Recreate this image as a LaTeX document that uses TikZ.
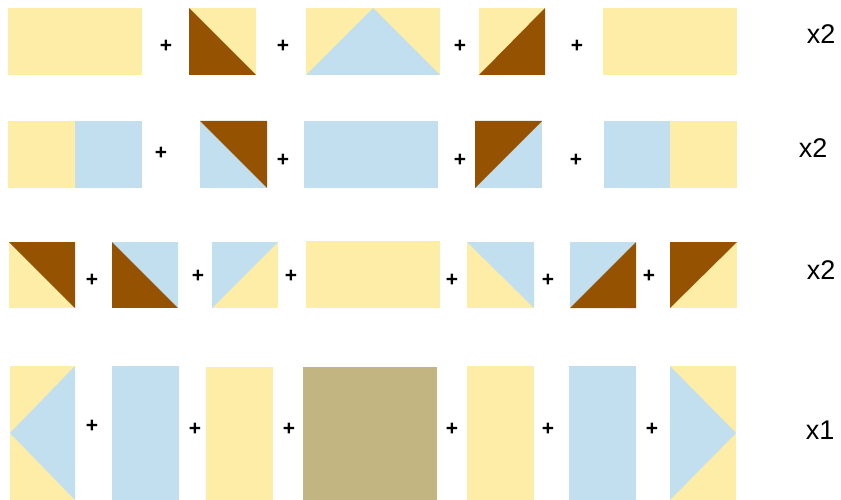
\documentclass[tikz,border=0pt]{standalone}
\usepackage{fontspec}
\setmainfont{Liberation Sans}
\definecolor{ylw}{HTML}{FDEDA6}
\definecolor{blu}{HTML}{C1DFEE}
\definecolor{brn}{HTML}{955200}
\definecolor{kha}{HTML}{C2B582}
\begin{document}
\begin{tikzpicture}[x=1pt,y=-1pt,
  plus/.style={inner sep=0pt,font=\bfseries\fontsize{21}{21}\selectfont},
  mult/.style={inner sep=0pt,font=\fontsize{27}{27}\selectfont}]
\useasboundingbox (0,0) rectangle (841,500);
% Row 1
\fill[ylw] (8,8) rectangle (142,75);
\fill[ylw] (189,8) rectangle (256,75); \fill[brn] (189,8) -- (256,75) -- (189,75) -- cycle;
\fill[ylw] (306,8) rectangle (440,75); \fill[blu] (306,75) -- (373,8) -- (440,75) -- cycle;
\fill[ylw] (479,8) rectangle (545,75); \fill[brn] (479,75) -- (545,8) -- (545,75) -- cycle;
\fill[ylw] (603,8) rectangle (737,75);
\node[plus] (p11) at (166,46) {+};
\node[plus] (p12) at (283,46) {+};
\node[plus] (p13) at (460,46) {+};
\node[plus] (p14) at (577,46) {+};
\node[mult] (m1) at (821,34) {x2};
% Row 2
\fill[ylw] (8,121) rectangle (75,188); \fill[blu] (75,121) rectangle (142,188);
\fill[blu] (200,121) rectangle (267,188); \fill[brn] (200,121) -- (267,121) -- (267,188) -- cycle;
\fill[blu] (304,121) rectangle (438,188);
\fill[blu] (475,121) rectangle (542,188); \fill[brn] (475,121) -- (542,121) -- (475,188) -- cycle;
\fill[blu] (604,121) rectangle (670,188); \fill[ylw] (670,121) rectangle (737,188);
\node[plus] (p21) at (161,153) {+};
\node[plus] (p22) at (283,160) {+};
\node[plus] (p23) at (460,160) {+};
\node[plus] (p24) at (576,160) {+};
\node[mult] (m2) at (813,148) {x2};
% Row 3
\fill[ylw] (9,242) rectangle (75,308); \fill[brn] (9,242) -- (75,242) -- (75,308) -- cycle;
\fill[brn] (112,242) rectangle (178,308); \fill[blu] (112,242) -- (178,242) -- (178,308) -- cycle;
\fill[ylw] (212,242) rectangle (278,308); \fill[blu] (212,242) -- (278,242) -- (212,308) -- cycle;
\fill[ylw] (306,241) rectangle (440,308);
\fill[ylw] (467,242) rectangle (534,308); \fill[blu] (467,242) -- (534,242) -- (534,308) -- cycle;
\fill[blu] (570,242) rectangle (636,308); \fill[brn] (570,308) -- (636,242) -- (636,308) -- cycle;
\fill[ylw] (670,242) rectangle (737,308); \fill[brn] (670,242) -- (737,242) -- (670,308) -- cycle;
\node[plus] (p31) at (92,280) {+};
\node[plus] (p32) at (198,276) {+};
\node[plus] (p33) at (291,276) {+};
\node[plus] (p34) at (452,280) {+};
\node[plus] (p35) at (548,280) {+};
\node[plus] (p36) at (649,276) {+};
\node[mult] (m3) at (821,270) {x2};
% Row 4
\fill[ylw] (10,366) rectangle (75,500); \fill[blu] (10,433) -- (75,366) -- (75,500) -- cycle;
\fill[blu] (112,366) rectangle (179,500);
\fill[ylw] (206,367) rectangle (273,500);
\fill[kha] (303,367) rectangle (437,500);
\fill[ylw] (467,366) rectangle (534,500);
\fill[blu] (569,366) rectangle (636,500);
\fill[ylw] (670,366) rectangle (736,500); \fill[blu] (670,366) -- (736,433) -- (670,500) -- cycle;
\node[plus] (p41) at (92,426) {+};
\node[plus] (p42) at (195,429) {+};
\node[plus] (p43) at (289,429) {+};
\node[plus] (p44) at (452,429) {+};
\node[plus] (p45) at (548,429) {+};
\node[plus] (p46) at (652,429) {+};
\node[mult] (m4) at (820,430) {x1};
\end{tikzpicture}
\end{document}
